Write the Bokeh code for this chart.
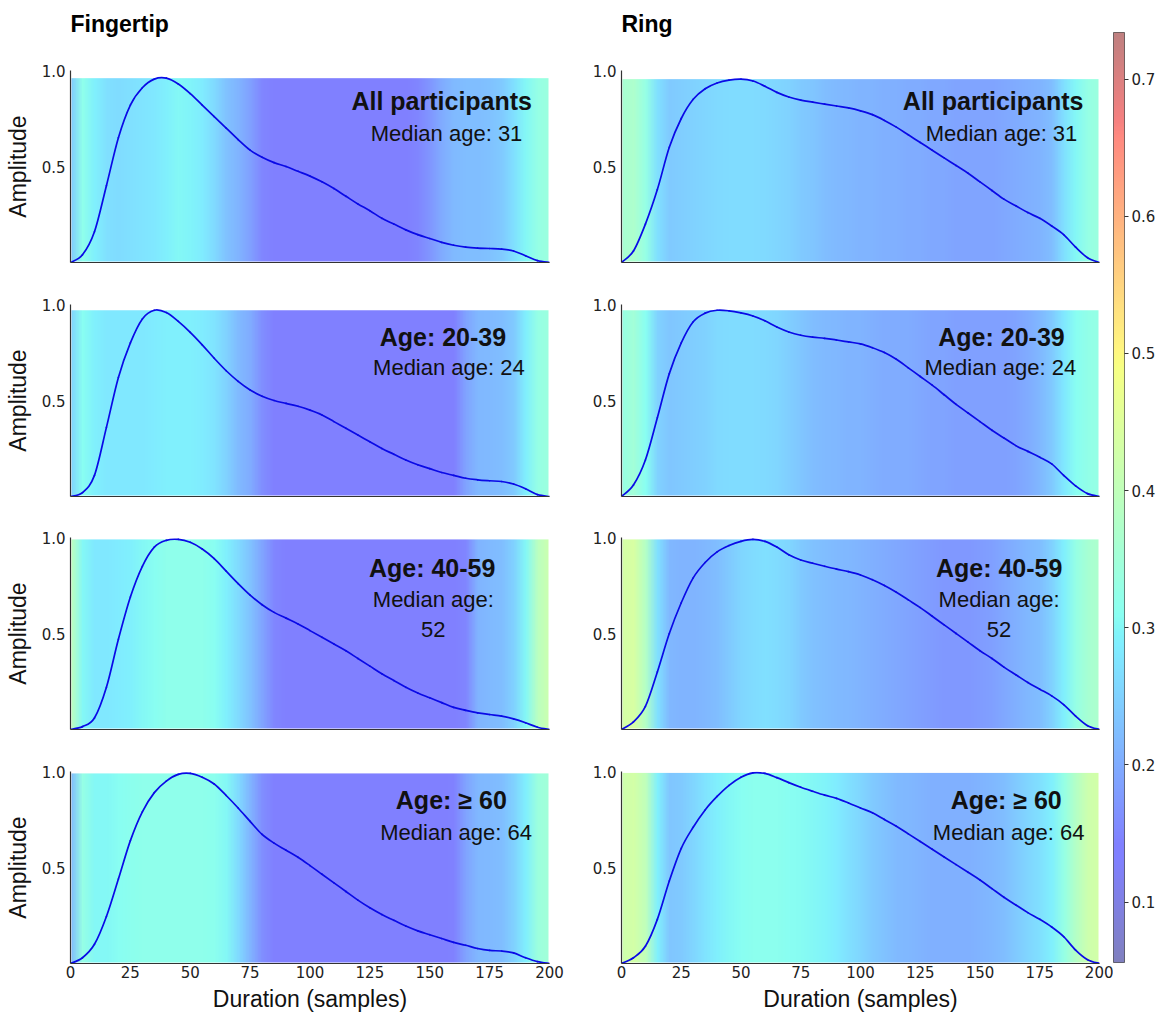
import base64
import struct
import zlib

import numpy as np
from bokeh.plotting import figure
from bokeh.layouts import row, column
from bokeh.models import LinearColorMapper, FixedTicker, PrintfTickFormatter, Label
from bokeh.core.properties import value
from bokeh.embed import file_html
from bokeh.resources import INLINE

# ---------------- data ----------------
samples = list(range(0, 201, 5))
x_ticks = [0, 25, 50, 75, 100, 125, 150, 175, 200]
y_ticks = [0.5, 1.0]
cbar_ticks = [0.1, 0.2, 0.3, 0.4, 0.5, 0.6, 0.7]
cbar_low, cbar_high = 0.056, 0.734

column_titles = ["Fingertip", "Ring"]
group_titles = ["All participants", "Age: 20-39", "Age: 40-59", "Age: \u2265 60"]
median_texts = ["Median age: 31", "Median age: 24", "Median age:\n52", "Median age: 64"]

fingertip_all = [0, 0.04, 0.16, 0.40, 0.65, 0.82, 0.91, 0.955, 0.96, 0.93, 0.88, 0.82, 0.76, 0.70,
                 0.64, 0.585, 0.548, 0.52, 0.50, 0.475, 0.45, 0.42, 0.385, 0.345, 0.305, 0.27, 0.23,
                 0.20, 0.17, 0.145, 0.125, 0.105, 0.09, 0.08, 0.075, 0.073, 0.07, 0.06, 0.035, 0.01, 0]
fingertip_20_39 = [0, 0.02, 0.11, 0.36, 0.62, 0.80, 0.925, 0.97, 0.958, 0.912, 0.855, 0.79, 0.72, 0.655,
                   0.60, 0.555, 0.522, 0.50, 0.485, 0.47, 0.45, 0.425, 0.39, 0.355, 0.32, 0.285, 0.25,
                   0.22, 0.19, 0.165, 0.145, 0.125, 0.11, 0.095, 0.087, 0.082, 0.078, 0.065, 0.04, 0.01, 0]
fingertip_40_59 = [0, 0.015, 0.06, 0.22, 0.47, 0.69, 0.85, 0.95, 0.985, 0.99, 0.975, 0.94, 0.89, 0.825,
                   0.76, 0.70, 0.65, 0.61, 0.58, 0.55, 0.515, 0.48, 0.445, 0.41, 0.37, 0.33, 0.29,
                   0.255, 0.22, 0.19, 0.165, 0.14, 0.115, 0.10, 0.087, 0.078, 0.07, 0.055, 0.035, 0.012, 0]
fingertip_60 = [0, 0.03, 0.10, 0.245, 0.44, 0.64, 0.79, 0.89, 0.95, 0.985, 0.99, 0.97, 0.935, 0.875,
                0.81, 0.74, 0.672, 0.627, 0.59, 0.553, 0.51, 0.465, 0.42, 0.375, 0.33, 0.29, 0.255,
                0.225, 0.195, 0.17, 0.15, 0.13, 0.11, 0.095, 0.078, 0.068, 0.065, 0.055, 0.03, 0.01, 0]

ring_all = [0, 0.06, 0.20, 0.38, 0.60, 0.75, 0.85, 0.905, 0.935, 0.95, 0.955, 0.945, 0.918, 0.886,
            0.862, 0.846, 0.835, 0.825, 0.815, 0.805, 0.79, 0.77, 0.74, 0.705, 0.665, 0.625, 0.585,
            0.545, 0.505, 0.465, 0.42, 0.375, 0.33, 0.295, 0.26, 0.23, 0.19, 0.145, 0.08, 0.025, 0]
ring_20_39 = [0, 0.06, 0.19, 0.41, 0.64, 0.80, 0.91, 0.955, 0.97, 0.967, 0.956, 0.94, 0.915, 0.883,
              0.857, 0.84, 0.83, 0.824, 0.815, 0.805, 0.795, 0.775, 0.75, 0.715, 0.67, 0.625, 0.58,
              0.53, 0.48, 0.435, 0.39, 0.345, 0.305, 0.265, 0.235, 0.205, 0.17, 0.11, 0.055, 0.015, 0]
ring_40_59 = [0, 0.04, 0.12, 0.30, 0.50, 0.66, 0.79, 0.87, 0.925, 0.958, 0.98, 0.99, 0.98, 0.95,
              0.91, 0.883, 0.866, 0.85, 0.835, 0.822, 0.805, 0.78, 0.75, 0.715, 0.675, 0.635, 0.59,
              0.545, 0.50, 0.455, 0.41, 0.37, 0.325, 0.285, 0.245, 0.21, 0.175, 0.13, 0.07, 0.02, 0]
ring_60 = [0, 0.03, 0.09, 0.23, 0.43, 0.60, 0.71, 0.80, 0.87, 0.928, 0.97, 0.993, 0.99, 0.968,
           0.942, 0.918, 0.897, 0.877, 0.86, 0.836, 0.81, 0.785, 0.75, 0.715, 0.675, 0.635, 0.595,
           0.555, 0.515, 0.475, 0.435, 0.39, 0.345, 0.305, 0.265, 0.23, 0.19, 0.14, 0.07, 0.02, 0]

fingertip_heat_all = [0.24, 0.32, 0.29, 0.27, 0.265, 0.27, 0.275, 0.28, 0.29, 0.30, 0.295, 0.285, 0.26,
                      0.23, 0.21, 0.185, 0.15, 0.14, 0.14, 0.14, 0.135, 0.135, 0.135, 0.135, 0.135,
                      0.135, 0.135, 0.135, 0.14, 0.15, 0.17, 0.20, 0.22, 0.225, 0.225, 0.23, 0.24,
                      0.27, 0.30, 0.33, 0.34]
fingertip_heat_20_39 = [0.25, 0.31, 0.29, 0.28, 0.28, 0.28, 0.28, 0.285, 0.29, 0.29, 0.29, 0.285, 0.275,
                        0.25, 0.22, 0.20, 0.16, 0.14, 0.135, 0.135, 0.135, 0.135, 0.135, 0.135, 0.135,
                        0.135, 0.135, 0.135, 0.135, 0.135, 0.135, 0.135, 0.14, 0.19, 0.215, 0.22, 0.225,
                        0.24, 0.29, 0.33, 0.34]
fingertip_heat_40_59 = [0.40, 0.30, 0.28, 0.28, 0.285, 0.29, 0.30, 0.31, 0.32, 0.32, 0.32, 0.32, 0.31,
                        0.29, 0.26, 0.23, 0.19, 0.15, 0.14, 0.135, 0.135, 0.135, 0.135, 0.135, 0.135,
                        0.135, 0.135, 0.135, 0.135, 0.135, 0.135, 0.135, 0.135, 0.15, 0.21, 0.22, 0.225,
                        0.25, 0.30, 0.39, 0.42]
fingertip_heat_60 = [0.22, 0.33, 0.30, 0.30, 0.31, 0.315, 0.32, 0.32, 0.32, 0.32, 0.32, 0.32, 0.315,
                     0.30, 0.26, 0.21, 0.16, 0.14, 0.135, 0.135, 0.135, 0.135, 0.135, 0.135, 0.135,
                     0.135, 0.135, 0.135, 0.135, 0.135, 0.135, 0.135, 0.145, 0.19, 0.215, 0.22, 0.225,
                     0.25, 0.29, 0.34, 0.35]

ring_heat_all = [0.36, 0.37, 0.33, 0.27, 0.24, 0.245, 0.25, 0.255, 0.26, 0.265, 0.265, 0.265, 0.26,
                 0.255, 0.25, 0.24, 0.235, 0.225, 0.22, 0.215, 0.21, 0.21, 0.205, 0.205, 0.20, 0.20,
                 0.195, 0.195, 0.19, 0.19, 0.19, 0.19, 0.195, 0.20, 0.205, 0.21, 0.225, 0.27, 0.30,
                 0.33, 0.34]
ring_heat_20_39 = [0.33, 0.35, 0.31, 0.25, 0.235, 0.24, 0.245, 0.25, 0.26, 0.265, 0.265, 0.265, 0.26,
                   0.255, 0.245, 0.235, 0.225, 0.22, 0.215, 0.21, 0.21, 0.205, 0.20, 0.20, 0.20, 0.195,
                   0.19, 0.19, 0.185, 0.185, 0.185, 0.185, 0.185, 0.19, 0.20, 0.215, 0.24, 0.28, 0.31,
                   0.325, 0.33]
ring_heat_40_59 = [0.43, 0.44, 0.38, 0.27, 0.215, 0.21, 0.21, 0.215, 0.225, 0.24, 0.255, 0.265, 0.27,
                   0.265, 0.255, 0.24, 0.23, 0.225, 0.22, 0.215, 0.21, 0.205, 0.20, 0.195, 0.19, 0.185,
                   0.18, 0.175, 0.175, 0.175, 0.18, 0.185, 0.195, 0.205, 0.215, 0.225, 0.25, 0.29, 0.33,
                   0.36, 0.37]
ring_heat_60 = [0.42, 0.43, 0.40, 0.29, 0.235, 0.24, 0.255, 0.275, 0.29, 0.30, 0.31, 0.315, 0.315,
                0.315, 0.31, 0.305, 0.30, 0.295, 0.285, 0.27, 0.255, 0.24, 0.23, 0.22, 0.215, 0.21,
                0.205, 0.205, 0.205, 0.205, 0.21, 0.215, 0.225, 0.24, 0.255, 0.27, 0.29, 0.33, 0.38,
                0.42, 0.43]

curves = [[fingertip_all, fingertip_20_39, fingertip_40_59, fingertip_60],
          [ring_all, ring_20_39, ring_40_59, ring_60]]
heats = [[fingertip_heat_all, fingertip_heat_20_39, fingertip_heat_40_59, fingertip_heat_60],
         [ring_heat_all, ring_heat_20_39, ring_heat_40_59, ring_heat_60]]

# annotation placement (data coords) per column / row
title_pos = [[(155, 0.84), (155.5, 0.83), (151, 0.84), (159, 0.85)],
             [(155.5, 0.84), (159, 0.83), (158, 0.84), (161, 0.85)]]
median_pos = [[(157, 0.67), (158, 0.67), (151.5, 0.60), (161, 0.68)],
              [(159, 0.67), (158.5, 0.67), (158, 0.60), (162, 0.68)]]
header_x = 0.0               # in the panels' x units (header frames line up with the panels)
header_y = 39                # px from the bottom of the header strip


# ---------------- colormap: jet at alpha 0.5 on white ----------------
def jet_alpha_rgb(n=256):
    t = np.linspace(0, 1, n)
    r = np.interp(t, [0, 0.35, 0.66, 0.89, 1], [0, 0, 1, 1, 0.5])
    g = np.interp(t, [0, 0.125, 0.375, 0.64, 0.91, 1], [0, 0, 1, 1, 0, 0])
    b = np.interp(t, [0, 0.11, 0.34, 0.65, 1], [0.5, 1, 1, 0, 0])
    return [tuple(int(round((0.5 * c + 0.5) * 255)) for c in (rr, gg, bb)) for rr, gg, bb in zip(r, g, b)]


palette_rgb = jet_alpha_rgb()
palette = ["#%02x%02x%02x" % c for c in palette_rgb]
mapper = LinearColorMapper(palette=palette, low=cbar_low, high=cbar_high)


def map_color(v):
    n = len(palette_rgb)
    i = int((v - cbar_low) / (cbar_high - cbar_low) * n)
    return palette_rgb[min(max(i, 0), n - 1)]


def heat_png(values):
    """One-row PNG of the heat values (coloured with the colour map); the browser
    scales it smoothly, like an interpolated imshow."""
    w, h = len(values), 1
    raw = b"\x00" + bytes([c for v in values for c in map_color(v)])

    def chunk(tag, data):
        return (struct.pack(">I", len(data)) + tag + data
                + struct.pack(">I", zlib.crc32(tag + data) & 0xFFFFFFFF))

    png = (b"\x89PNG\r\n\x1a\n"
           + chunk(b"IHDR", struct.pack(">IIBBBBB", w, h, 8, 2, 0, 0, 0))
           + chunk(b"IDAT", zlib.compress(raw))
           + chunk(b"IEND", b""))
    return "data:image/png;base64," + base64.b64encode(png).decode()


def smooth_segments(xs, ys):
    """Catmull-Rom through the read points, as cubic Bezier segments."""
    xs = list(xs)
    ys = list(ys)
    px = [xs[0]] + xs + [xs[-1]]
    py = [ys[0]] + ys + [ys[-1]]
    seg = dict(x0=[], y0=[], x1=[], y1=[], cx0=[], cy0=[], cx1=[], cy1=[])
    for i in range(1, len(px) - 2):
        seg["x0"].append(px[i]); seg["y0"].append(py[i])
        seg["x1"].append(px[i + 1]); seg["y1"].append(py[i + 1])
        seg["cx0"].append(px[i] + (px[i + 1] - px[i - 1]) / 6.0)
        seg["cy0"].append(py[i] + (py[i + 1] - py[i - 1]) / 6.0)
        seg["cx1"].append(px[i + 1] - (px[i + 2] - px[i]) / 6.0)
        seg["cy1"].append(py[i + 1] - (py[i + 2] - py[i]) / 6.0)
    return seg


LABEL_FONT = "Liberation Sans"
TICK_FONT = "DejaVu Sans"
AXIS_COLOR = "#333333"

HEADER_H = 62
heights = [283 - HEADER_H, 233, 234, 269]
tops = [70 - HEADER_H, 21, 21, 21]
bottoms = [21, 20, 21, 56]
col_widths = [585, 528]
col_borders = [(70, 36), (36, 14)]


def make_header(col):
    w = col_widths[col]
    bl, br = col_borders[col]
    h = figure(width=w, height=HEADER_H, x_range=(0, 200), y_range=(0, HEADER_H),
               output_backend="svg", toolbar_location=None, x_axis_location=None,
               y_axis_location=None, min_border_left=bl, min_border_right=br,
               min_border_top=0, min_border_bottom=0)
    h.outline_line_color = None
    h.grid.visible = False
    h.text(x=[header_x], y=[header_y], text=[column_titles[col]],
           text_font=value(LABEL_FONT), text_font_size=value("23px"),
           text_font_style=value("bold"), text_color="#000000",
           text_align="left", text_baseline="middle")
    return h


def make_panel(col, r):
    curve = curves[col][r]
    heat = heats[col][r]
    w = col_widths[col]
    bl, br = col_borders[col]
    p = figure(width=w, height=heights[r], x_range=(0, 200), y_range=(0, 1.0),
               output_backend="svg", toolbar_location=None,
               min_border_left=bl, min_border_right=br,
               min_border_top=tops[r], min_border_bottom=bottoms[r])
    p.outline_line_color = None
    p.grid.visible = False
    p.background_fill_color = "white"
    p.border_fill_color = "white"

    step = samples[1] - samples[0]
    top = max(curve)
    p.image_url(url=[heat_png(heat)], x=samples[0] - step / 2, y=top,
                w=samples[-1] - samples[0] + step, h=top, anchor="top_left")

    seg = smooth_segments(samples, curve)
    p.bezier(x0=seg["x0"], y0=seg["y0"], x1=seg["x1"], y1=seg["y1"],
             cx0=seg["cx0"], cy0=seg["cy0"], cx1=seg["cx1"], cy1=seg["cy1"],
             line_color="#0a0ae6", line_width=1.7, line_cap="round")

    tx, ty = title_pos[col][r]
    p.add_layout(Label(x=tx, y=ty, text=group_titles[r], text_align="center",
                       text_baseline="middle", text_font=LABEL_FONT, text_font_style="bold",
                       text_font_size="25px", text_color="#111111"))
    mx, my = median_pos[col][r]
    p.add_layout(Label(x=mx, y=my, text=median_texts[r], text_align="center",
                       text_baseline="middle", text_font=LABEL_FONT,
                       text_font_size="22px", text_color="#111111", text_line_height=1.2))

    for ax in (p.xaxis[0], p.yaxis[0]):
        ax.major_tick_out = 0
        ax.major_tick_in = 0
        ax.minor_tick_out = 0
        ax.minor_tick_in = 0
        ax.axis_line_color = AXIS_COLOR
        ax.axis_line_width = 1.2
        ax.major_label_text_font = TICK_FONT
        ax.major_label_text_font_size = "15px"
        ax.major_label_text_color = "#222222"
        ax.axis_label_text_font = LABEL_FONT
        ax.axis_label_text_font_size = "23px"
        ax.axis_label_text_font_style = "normal"
        ax.axis_label_text_color = "#111111"

    p.xaxis.ticker = FixedTicker(ticks=x_ticks if r == 3 else [])
    p.xaxis.major_label_standoff = 2
    if r == 3:
        p.xaxis.axis_label = "Duration (samples)"
        p.xaxis.axis_label_standoff = 5

    p.yaxis.ticker = FixedTicker(ticks=y_ticks)
    p.yaxis.formatter = PrintfTickFormatter(format="%.1f")
    p.yaxis.major_label_standoff = 5
    if col == 0:
        p.yaxis.axis_label = "Amplitude"
        p.yaxis.axis_label_standoff = 8
    return p


left = [make_header(0)] + [make_panel(0, r) for r in range(4)]
right = [make_header(1)] + [make_panel(1, r) for r in range(4)]

# colorbar figure
total_h = HEADER_H + sum(heights)
cb = figure(width=45, height=total_h, x_range=(0, 1), y_range=(cbar_low, cbar_high),
            output_backend="svg", toolbar_location=None, x_axis_location=None,
            y_axis_location="right", min_border_left=0, min_border_right=30,
            min_border_top=32, min_border_bottom=total_h - 32 - 930)
cb.grid.visible = False
cb.outline_line_color = "#555555"
cb.outline_line_width = 1
cbar_values = np.linspace(cbar_low, cbar_high, 256).reshape(256, 1)
cb.image(image=[cbar_values], x=0, y=cbar_low, dw=1, dh=cbar_high - cbar_low, color_mapper=mapper)
cb.yaxis.ticker = FixedTicker(ticks=cbar_ticks)
cb.yaxis.formatter = PrintfTickFormatter(format="%.1f")
cb.yaxis.axis_line_color = None
cb.yaxis.major_tick_out = 4
cb.yaxis.major_tick_in = 0
cb.yaxis.minor_tick_out = 0
cb.yaxis.minor_tick_in = 0
cb.yaxis.major_tick_line_color = "#333333"
cb.yaxis.major_label_standoff = 3
cb.yaxis.major_label_text_font = TICK_FONT
cb.yaxis.major_label_text_font_size = "15px"
cb.yaxis.major_label_text_color = "#222222"

layout = row(column(*left), column(*right), cb)
open("out.html", "w").write(file_html(layout, INLINE))
